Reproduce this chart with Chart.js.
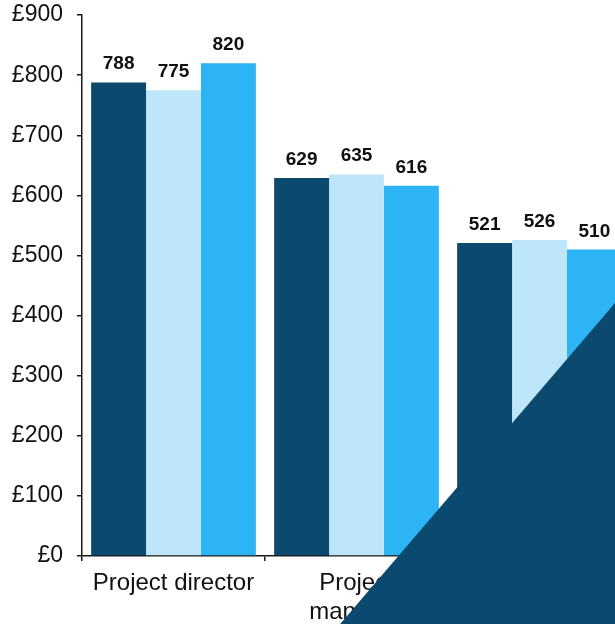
<!DOCTYPE html>
<html>
<head>
<meta charset="utf-8">
<script src="https://cdn.jsdelivr.net/npm/chart.js@4"></script>
<style>
  html, body { margin: 0; padding: 0; background: #fff; overflow: hidden; }
  #wrap { position: relative; width: 615px; height: 624px; overflow: hidden; }
  #grafico { position: absolute; left: 0; top: 0; }
  #faixa {
    position: absolute; left: 0; top: 0; width: 615px; height: 624px;
    background: #0b4a6e;
    clip-path: polygon(615px 303px, 620px 303px, 620px 630px, 335px 630px);
  }
</style>
</head>
<body>
<div id="wrap">
  <canvas id="grafico" width="632" height="624"></canvas>
  <div id="faixa"></div>
</div>
<script>
const categorias = ['Project director', ['Project', 'manager'], 'Consultant'];
const serieA = [788, 629, 521];
const serieB = [775, 635, 526];
const serieC = [820, 616, 510];
const ticksY = [0, 100, 200, 300, 400, 500, 600, 700, 800, 900];

const corEixo = '#1a1a1a';
const fonte = "'Liberation Sans', Arial, Helvetica, sans-serif";

// escreve o valor em cima de cada barra
const rotulosBarras = {
  id: 'rotulosBarras',
  afterDatasetsDraw(chart) {
    const ctx = chart.ctx;
    ctx.save();
    ctx.font = 'bold 19px ' + fonte;
    ctx.fillStyle = '#111';
    ctx.textAlign = 'center';
    ctx.textBaseline = 'alphabetic';
    chart.data.datasets.forEach((ds, i) => {
      chart.getDatasetMeta(i).data.forEach((bar, j) => {
        ctx.fillText(String(ds.data[j]), bar.x, bar.y - 13);
      });
    });
    ctx.restore();
  }
};

function gerarGrafico() {
  const ctx = document.getElementById('grafico').getContext('2d');
  new Chart(ctx, {
    type: 'bar',
    data: {
      labels: categorias,
      datasets: [
        { label: '2011', data: serieA, backgroundColor: '#0b4a6e' },
        { label: '2012', data: serieB, backgroundColor: '#bde6fb' },
        { label: '2013', data: serieC, backgroundColor: '#2db4f5' }
      ]
    },
    options: {
      responsive: false,
      animation: false,
      layout: { padding: { top: 14, right: 1, left: 0, bottom: 0 } },
      datasets: { bar: { categoryPercentage: 0.9, barPercentage: 1.0 } },
      plugins: {
        legend: { display: false },
        tooltip: { enabled: false }
      },
      scales: {
        x: {
          afterFit(scale) { scale.height = 68; },
          grid: { drawOnChartArea: false, drawTicks: true, tickLength: 5, color: corEixo, lineWidth: 1.5 },
          border: { display: true, color: corEixo, width: 1.5 },
          ticks: {
            color: '#111',
            padding: 8,
            maxRotation: 0,
            autoSkip: false,
            font: { family: fonte, size: 24, lineHeight: 29 / 24 }
          }
        },
        y: {
          min: 0,
          max: 900,
          afterFit(scale) { scale.width = 82; },
          afterBuildTicks(scale) { scale.ticks = ticksY.map(v => ({ value: v })); },
          grid: { drawOnChartArea: false, drawTicks: true, tickLength: 5, color: corEixo, lineWidth: 1.5 },
          border: { display: true, color: corEixo, width: 1.5 },
          ticks: {
            color: '#111',
            padding: 14,
            font: { family: fonte, size: 23, lineHeight: 0.1 },
            callback: v => '£' + v
          }
        }
      }
    },
    plugins: [rotulosBarras]
  });
}

gerarGrafico();
</script>
</body>
</html>
